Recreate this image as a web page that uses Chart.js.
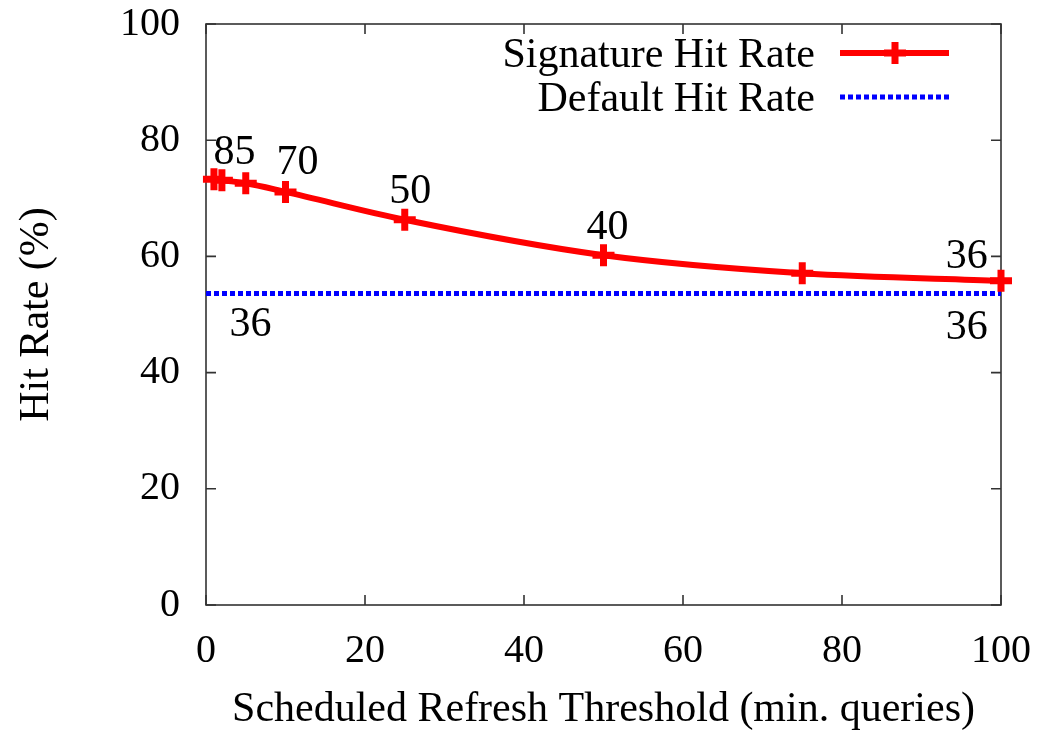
<!DOCTYPE html>
<html><head><meta charset="utf-8">
<script src="https://cdn.jsdelivr.net/npm/chart.js@4"></script>
<style>html,body{margin:0;padding:0;background:#fff}#wrap{width:1053px;height:731px;position:relative}</style>
</head><body><div id="wrap"><canvas id="c"></canvas></div>
<script>
// ---- data ----
const thresholds = [1, 2, 5, 10, 25, 50, 75, 100];
const signatureHitRate = [73.3, 73.1, 72.6, 71.1, 66.3, 60.2, 57.1, 55.8];
const defaultX = [0, 100];
const defaultHitRate = [53.6, 53.6];
const xTicks = [0, 20, 40, 60, 80, 100];
const yTicks = [0, 20, 40, 60, 80, 100];
const annotationTexts = ['85', '70', '50', '40', '36', '36', '36'];
const annotationX = [3.6, 11.5, 25.7, 50.5, 95.7, 95.7, 5.6];
const annotationY = [77.8, 76.1, 71.1, 64.9, 59.9, 47.6, 48.2];

const FAMILY = '"Liberation Serif", "Times New Roman", serif';
const FS = 40;
const FS_BIG = 42;

const framePlugin = {
  id: 'frame',
  beforeDatasetsDraw(chart) {
    const {ctx, chartArea: a, scales: {x, y}} = chart;
    ctx.save();
    ctx.strokeStyle = '#333';
    ctx.lineWidth = 1.6;
    ctx.strokeRect(a.left, a.top, a.right - a.left, a.bottom - a.top);
    ctx.beginPath();
    xTicks.forEach(v => {
      const px = x.getPixelForValue(v);
      ctx.moveTo(px, a.bottom); ctx.lineTo(px, a.bottom - 10);
      ctx.moveTo(px, a.top); ctx.lineTo(px, a.top + 10);
    });
    yTicks.forEach(v => {
      const py = y.getPixelForValue(v);
      ctx.moveTo(a.left, py); ctx.lineTo(a.left + 10, py);
      ctx.moveTo(a.right, py); ctx.lineTo(a.right - 10, py);
    });
    ctx.stroke();
    ctx.restore();
  },
  afterDatasetsDraw(chart) {
    const {ctx, scales: {x, y}} = chart;
    ctx.save();
    ctx.fillStyle = '#000';
    ctx.font = FS_BIG + 'px ' + FAMILY;
    ctx.textAlign = 'center';
    ctx.textBaseline = 'middle';
    annotationTexts.forEach((t, i) => {
      ctx.fillText(t, x.getPixelForValue(annotationX[i]), y.getPixelForValue(annotationY[i]));
    });
    // legend
    const ds = chart.data.datasets;
    const rows = [53, 97];
    ds.forEach((d, i) => {
      const ry = rows[i];
      ctx.textAlign = 'right';
      ctx.textBaseline = 'alphabetic';
      ctx.fillStyle = '#000';
      ctx.fillText(d.label, 815, ry + 14);
      ctx.strokeStyle = d.borderColor;
      ctx.lineWidth = d.borderWidth;
      ctx.setLineDash(d.borderDash || []);
      ctx.beginPath(); ctx.moveTo(840, ry); ctx.lineTo(949, ry); ctx.stroke();
      ctx.setLineDash([]);
      if (d.pointStyle === 'cross') {
        ctx.lineWidth = d.pointBorderWidth;
        const r = d.pointRadius;
        ctx.beginPath();
        ctx.moveTo(895 - r, ry); ctx.lineTo(895 + r, ry);
        ctx.moveTo(895, ry - r); ctx.lineTo(895, ry + r);
        ctx.stroke();
      }
    });
    ctx.restore();
  }
};

const tickFont = {family: FAMILY, size: FS};
new Chart(document.getElementById('c'), {
  type: 'line',
  data: {
    datasets: [
      {
        label: 'Signature Hit Rate',
        data: thresholds.map((v, i) => ({x: v, y: signatureHitRate[i]})),
        borderColor: '#ff0000', backgroundColor: '#ff0000',
        borderWidth: 6, pointStyle: 'cross', pointRadius: 11,
        pointBorderWidth: 7, pointBorderColor: '#ff0000',
        cubicInterpolationMode: 'monotone', clip: false
      },
      {
        label: 'Default Hit Rate',
        data: defaultX.map((v, i) => ({x: v, y: defaultHitRate[i]})),
        borderColor: '#0000ff', backgroundColor: '#0000ff',
        borderWidth: 5, borderDash: [5, 3], pointRadius: 0, clip: false
      }
    ]
  },
  options: {
    responsive: true, maintainAspectRatio: false, animation: false, events: [],
    layout: {padding: {top: 24, right: 52, left: 0, bottom: 0}},
    plugins: {legend: {display: false}, tooltip: {enabled: false}},
    scales: {
      x: {
        type: 'linear', min: 0, max: 100,
        afterBuildTicks: s => { s.ticks = xTicks.map(v => ({value: v})); },
        grid: {display: false, drawTicks: false}, border: {display: false},
        ticks: {font: tickFont, color: '#000', padding: 22, maxRotation: 0, autoSkip: false},
        title: {display: true, text: 'Scheduled Refresh Threshold (min. queries)',
          font: {family: FAMILY, size: FS_BIG, lineHeight: 1}, color: '#000', padding: 0},
        afterFit: s => { s.height = 126; s.paddingLeft = 0; s.paddingRight = 0; }
      },
      y: {
        type: 'linear', min: 0, max: 100,
        afterBuildTicks: s => { s.ticks = yTicks.map(v => ({value: v})); },
        grid: {display: false, drawTicks: false}, border: {display: false},
        ticks: {font: tickFont, color: '#000', padding: 26, autoSkip: false},
        title: {display: true, text: 'Hit Rate (%)',
          font: {family: FAMILY, size: FS_BIG, lineHeight: 1}, color: '#000', padding: {top: 16, bottom: 0}},
        afterFit: s => { s.width = 206; s.paddingTop = 0; s.paddingBottom = 0; }
      }
    }
  },
  plugins: [framePlugin]
});
</script>
</body></html>
